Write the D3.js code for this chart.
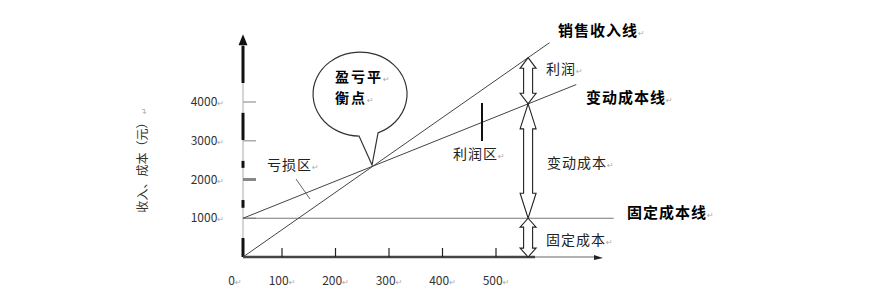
<!DOCTYPE html>
<html>
<head>
<meta charset="utf-8">
<script src="https://cdn.jsdelivr.net/npm/d3@7"></script>
<style>
  body { margin: 0; background: #fff; }
  svg { display: block; }
  text { font-family: "Noto Sans CJK SC", "DejaVu Sans", sans-serif; }
</style>
</head>
<body>
<script>
// break-even chart: sales revenue vs fixed + variable cost
var width = 893;
var height = 294;

// data
var xTicks = [0, 100, 200, 300, 400, 500];
var yTicks = [1000, 2000, 3000, 4000];
var revenueLine = [[0, 0], [600, 5530]];      // 销售收入线
var varCostLine = [[0, 1000], [650, 4450]];   // 变动成本线
var fixedCostLine = [[0, 1000], [720, 1000]]; // 固定成本线
var arrowQ = 560;                             // where the brace arrows stand
var yAxisMax = 5700;
var xAxisMax = 700;

var RET = '\u21b5';

var svg = d3.select('body').append('svg')
  .attr('width', width)
  .attr('height', height);

// hand drawn axis: 0..100 is narrower than the rest
var x = d3.scaleLinear().domain([0, 100, 500]).range([243, 282, 496]);
var y = d3.scaleLinear().domain([0, 4000]).range([257, 102]);

var line = d3.line()
  .x(function (d) { return x(d[0]); })
  .y(function (d) { return y(d[1]); });

// y axis: thin grey line + broken dark strokes (scan look)
svg.append('line')
  .attr('x1', x(0)).attr('x2', x(0))
  .attr('y1', y(0)).attr('y2', y(yAxisMax))
  .attr('stroke', '#aaa').attr('stroke-width', 1);

var darkSpans = [[0, 490], [1270, 1470], [2300, 2480], [3020, 3720], [4490, yAxisMax - 250]];
svg.selectAll('.yseg').data(darkSpans).enter().append('line')
  .attr('class', 'yseg')
  .attr('x1', x(0)).attr('x2', x(0))
  .attr('y1', function (d) { return y(d[0]); })
  .attr('y2', function (d) { return y(d[1]); })
  .attr('stroke', '#111').attr('stroke-width', 3);

var ty = y(yAxisMax);
svg.append('path')
  .attr('d', 'M' + x(0) + ',' + (ty - 2) + 'L' + (x(0) - 4.5) + ',' + (ty + 9) + 'L' + (x(0) + 4.5) + ',' + (ty + 9) + 'Z')
  .attr('fill', '#111');

// y ticks
svg.selectAll('.ytick').data(yTicks).enter().append('line')
  .attr('class', 'ytick')
  .attr('x1', x(0)).attr('x2', x(0) + 13)
  .attr('y1', function (d) { return y(d); })
  .attr('y2', function (d) { return y(d); })
  .attr('stroke', function (d) { return d === 2000 ? '#888' : '#aaa'; })
  .attr('stroke-width', function (d) { return d === 2000 ? 3 : 1.5; });

var yLab = svg.selectAll('.ylab').data(yTicks).enter().append('text')
  .attr('class', 'ylab')
  .attr('x', x(0) - 19)
  .attr('y', function (d) { return y(d); })
  .attr('dy', '0.35em')
  .attr('text-anchor', 'end')
  .attr('font-size', 12)
  .attr('fill', '#333');
yLab.append('tspan').text(function (d) { return d; });
yLab.append('tspan').attr('font-size', 8).attr('fill', '#aaa').attr('font-family', 'DejaVu Sans').text(RET);

// y title
var yt = svg.append('text')
  .attr('transform', 'translate(147,160) rotate(-90)')
  .attr('text-anchor', 'middle')
  .attr('font-size', 12)
  .attr('fill', '#333');
yt.append('tspan').text('收入、成本（元）');
yt.append('tspan').attr('font-size', 8).attr('fill', '#aaa').attr('font-family', 'DejaVu Sans').text(' ' + RET);

// x axis
svg.append('line')
  .attr('x1', x(0)).attr('x2', x(573))
  .attr('y1', y(0)).attr('y2', y(0))
  .attr('stroke', '#444').attr('stroke-width', 2.5);
svg.append('line')
  .attr('x1', x(573)).attr('x2', x(xAxisMax) - 6)
  .attr('y1', y(0)).attr('y2', y(0))
  .attr('stroke', '#666').attr('stroke-width', 1);
svg.append('path')
  .attr('d', 'M' + x(xAxisMax) + ',' + (y(0) + 1) + 'L' + (x(xAxisMax) - 9) + ',' + (y(0) - 2) + 'L' + (x(xAxisMax) - 9) + ',' + (y(0) + 3) + 'Z')
  .attr('fill', '#222');

svg.selectAll('.xtick').data(xTicks.slice(1)).enter().append('line')
  .attr('class', 'xtick')
  .attr('x1', function (d) { return x(d); })
  .attr('x2', function (d) { return x(d); })
  .attr('y1', y(0)).attr('y2', y(0) - 9)
  .attr('stroke', '#222').attr('stroke-width', 1.2);

var xLab = svg.selectAll('.xlab').data(xTicks).enter().append('text')
  .attr('class', 'xlab')
  .attr('x', function (d) { return d === 0 ? x(d) - 8 : x(d); })
  .attr('y', 285)
  .attr('text-anchor', 'middle')
  .attr('font-size', 12)
  .attr('fill', '#333');
xLab.append('tspan').text(function (d) { return d; });
xLab.append('tspan').attr('font-size', 8).attr('fill', '#aaa').attr('font-family', 'DejaVu Sans').text(RET);

// cost / revenue lines
svg.append('path').datum(fixedCostLine).attr('d', line)
  .attr('fill', 'none').attr('stroke', '#777').attr('stroke-width', 1);
svg.append('path').datum(varCostLine).attr('d', line)
  .attr('fill', 'none').attr('stroke', '#444').attr('stroke-width', 1);
svg.append('path').datum(revenueLine).attr('d', line)
  .attr('fill', 'none').attr('stroke', '#444').attr('stroke-width', 1);

// pixel helpers
function px(l) {
  return l.map(function (d) { return [x(d[0]), y(d[1])]; });
}
function yAt(l, xx) {
  var p = px(l);
  var t = (xx - p[0][0]) / (p[1][0] - p[0][0]);
  return p[0][1] + t * (p[1][1] - p[0][1]);
}
function intersect(a, b) {
  var p = px(a), q = px(b);
  var m1 = (p[1][1] - p[0][1]) / (p[1][0] - p[0][0]);
  var m2 = (q[1][1] - q[0][1]) / (q[1][0] - q[0][0]);
  var c1 = p[0][1] - m1 * p[0][0];
  var c2 = q[0][1] - m2 * q[0][0];
  var xx = (c2 - c1) / (m1 - m2);
  return [xx, m1 * xx + c1];
}

// hollow double-headed arrows
function dblArrow(xx, y1, y2) {
  var len = y2 - y1;
  var hl = Math.min(25, len * 0.23);
  var sw = 4.5, hw = 8;
  var d = 'M' + xx + ',' + y1 +
    'L' + (xx + hw) + ',' + (y1 + hl) + 'L' + (xx + sw) + ',' + (y1 + hl) +
    'L' + (xx + sw) + ',' + (y2 - hl) + 'L' + (xx + hw) + ',' + (y2 - hl) +
    'L' + xx + ',' + y2 +
    'L' + (xx - hw) + ',' + (y2 - hl) + 'L' + (xx - sw) + ',' + (y2 - hl) +
    'L' + (xx - sw) + ',' + (y1 + hl) + 'L' + (xx - hw) + ',' + (y1 + hl) + 'Z';
  svg.append('path').attr('d', d)
    .attr('fill', '#fff').attr('stroke', '#222').attr('stroke-width', 1.1)
    .attr('stroke-linejoin', 'miter');
}
var ax = x(arrowQ);
dblArrow(ax, yAt(revenueLine, ax), yAt(varCostLine, ax));
dblArrow(ax, yAt(varCostLine, ax), yAt(fixedCostLine, ax));
dblArrow(ax, yAt(fixedCostLine, ax), y(0));

// break-even balloon
var be = intersect(revenueLine, varCostLine);
var cx = be[0] - 13, cy = be[1] - 72, rx = 47, ry = 42;
function ey(dx) { return cy + ry * Math.sqrt(1 - (dx * dx) / (rx * rx)); }
var bl = [cx - 1, ey(-1)], br = [cx + 18, ey(18)];
svg.append('path')
  .attr('d', 'M' + br[0] + ',' + br[1] + 'A' + rx + ',' + ry + ' 0 1 0 ' + bl[0] + ',' + bl[1] +
    'L' + (be[0] - 1) + ',' + (be[1] - 1) + 'Z')
  .attr('fill', '#fff').attr('stroke', '#333').attr('stroke-width', 1.2);

function label(tx, ty, txt, size, bold, ls) {
  var t = svg.append('text')
    .attr('x', tx).attr('y', ty)
    .attr('font-size', size)
    .attr('font-weight', bold ? 'bold' : 'normal')
    .attr('letter-spacing', ls == null ? 1 : ls)
    .attr('fill', bold ? '#000' : '#222');
  t.append('tspan').text(txt);
  t.append('tspan').attr('font-size', 8).attr('font-weight', 'normal')
    .attr('fill', '#aaa').attr('font-family', 'DejaVu Sans').text(RET);
  return t;
}

label(cx - 25, cy - 12, '盈亏平', 14, true, 2);
label(cx - 25, cy + 9, '衡点', 14, true, 2);

label(558, 36, '销售收入线', 15, true);
label(586, 103, '变动成本线', 15, true);
label(627, 218, '固定成本线', 15, true);
label(546, 74, '利润', 14, false);
label(547, 168, '变动成本', 14, false);
label(546, 245, '固定成本', 14, false);
label(267, 170, '亏损区', 14, false);
label(453, 159, '利润区', 14, false);

// pointers
svg.append('line')
  .attr('x1', 296).attr('y1', 179).attr('x2', 310).attr('y2', 199)
  .attr('stroke', '#666').attr('stroke-width', 1);
svg.append('line')
  .attr('x1', 482).attr('y1', 103).attr('x2', 482).attr('y2', 141)
  .attr('stroke', '#111').attr('stroke-width', 2);
</script>
</body>
</html>
